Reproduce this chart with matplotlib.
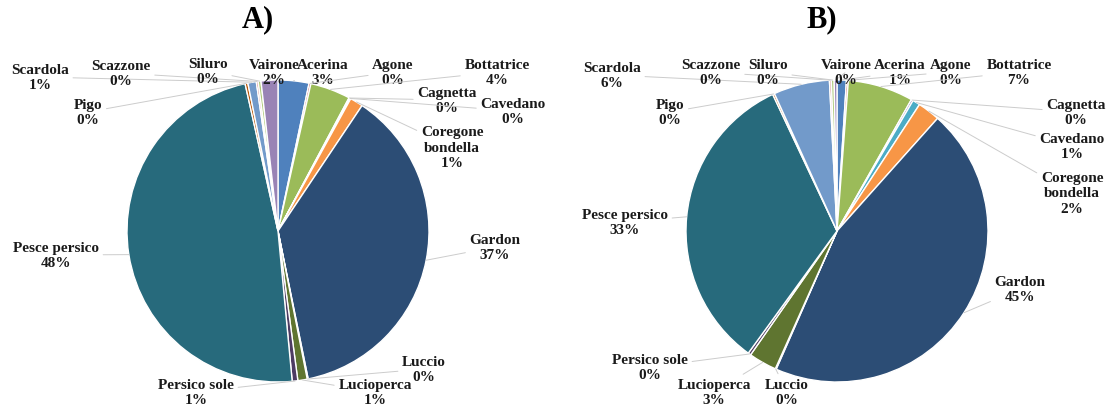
import numpy as np
import matplotlib
matplotlib.use("Agg")
import matplotlib.pyplot as plt

# species in chart order (clockwise from 12 o'clock)
species = ["Acerina", "Agone", "Bottatrice", "Cagnetta", "Cavedano",
           "Coregone\nbondella", "Gardon", "Luccio", "Lucioperca",
           "Persico sole", "Pesce persico", "Pigo", "Scardola",
           "Scazzone", "Siluro", "Vairone"]

# share of catch (%) for the two panels
values_a = [3.3, 0.2, 4.3, 0.1, 0.1, 1.4, 37.4, 0.1, 1.0, 0.6,
            48.0, 0.3, 0.9, 0.2, 0.3, 1.8]
values_b = [1.0, 0.2, 7.0, 0.2, 0.8, 2.4, 45.0, 0.1, 3.0, 0.3,
            33.0, 0.2, 6.0, 0.2, 0.3, 0.3]

titles = ["A)", "B)"]

# office 2007 palette: base, darker, lighter
colors = ["#4F81BD", "#C0504D", "#9BBB59", "#8064A2", "#4BACC6", "#F79646",
          "#2C4D75", "#772C2A", "#5F7530", "#4D3B62", "#276A7C", "#B65708",
          "#729ACA", "#CD7371", "#AFC97A", "#9983B5"]

W, H = 1108, 410

# pie centres / radius in pixels (y from top)
centers = [(278, 232), (837, 232)]
radius = 151

# label positions (pixels, y from top)
label_pos_a = [(323, 73), (393, 73), (497, 73), (447, 101), (513, 112),
               (452, 148), (495, 248), (424, 370), (375, 393), (196, 393),
               (56, 256), (88, 113), (40, 78), (121, 74), (208, 72), (274, 73)]
label_pos_b = [(900, 73), (951, 73), (1019, 73), (1076, 113), (1072, 147),
               (1072, 194), (1020, 290), (787, 393), (714, 393), (650, 368),
               (625, 223), (670, 113), (612, 76), (711, 73), (768, 73), (846, 73)]
title_pos = [(258, 20), (822, 20)]

font = "Liberation Serif"

fig = plt.figure(figsize=(W / 100, H / 100), dpi=100)
ax = fig.add_axes([0, 0, 1, 1])

for values, center, lpos, title, tpos in zip([values_a, values_b], centers,
                                             [label_pos_a, label_pos_b],
                                             titles, title_pos):
    cx, cy = center[0], H - center[1]
    wedges, _ = ax.pie(values, colors=colors, startangle=90, counterclock=False,
                       radius=radius, center=(cx, cy),
                       wedgeprops=dict(edgecolor="white", linewidth=1.0))
    total = sum(values)
    for w, name, v, (lx, ly) in zip(wedges, species, values, lpos):
        mid = np.deg2rad((w.theta1 + w.theta2) / 2)
        px = cx + radius * np.cos(mid)
        py = cy + radius * np.sin(mid)
        pct = int(v / total * 100 + 0.5)
        ax.annotate(f"{name}\n{pct}%", xy=(px, py), xytext=(lx, H - ly),
                    ha="center", va="center", fontsize=11, fontweight="bold",
                    family=font, linespacing=1.25, color="#1a1a1a",
                    arrowprops=dict(arrowstyle="-", color="#cccccc", lw=0.7,
                                    shrinkA=1, shrinkB=0))
    ax.text(tpos[0], H - tpos[1], title, ha="center", va="center",
            fontsize=22, fontweight="bold", family=font)

ax.set_xlim(0, W)
ax.set_ylim(0, H)
ax.set_aspect("equal")
ax.axis("off")

fig.savefig("out.png", dpi=100, facecolor="white")
